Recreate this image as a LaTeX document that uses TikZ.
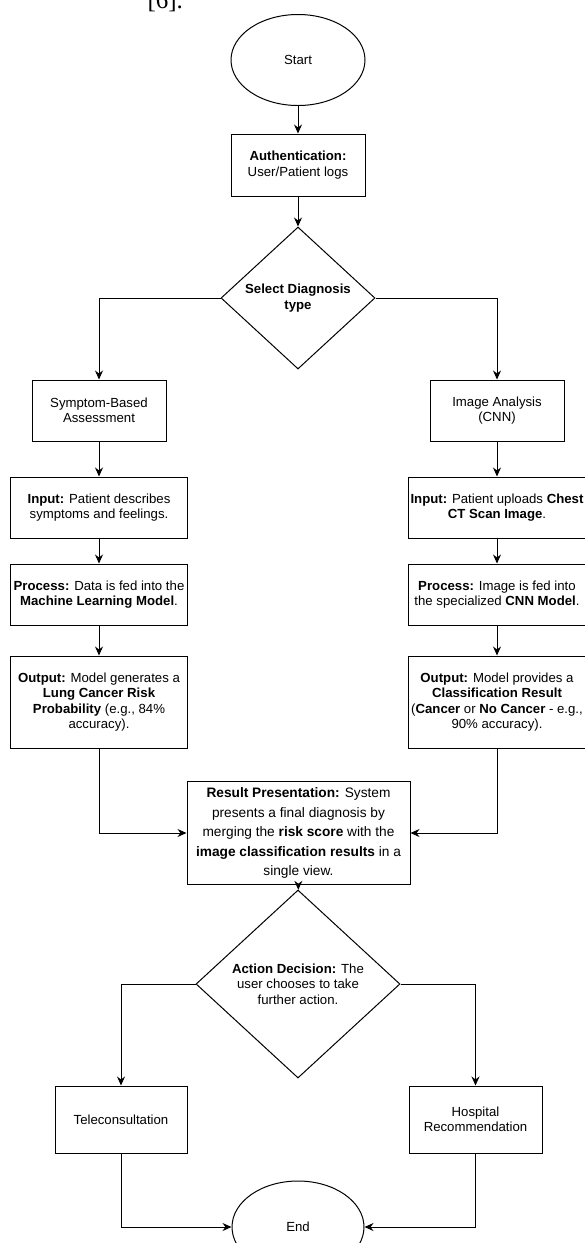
\documentclass[tikz,border=0pt]{standalone}
\usepackage{fontspec}
\setmainfont{Liberation Sans}
\newfontfamily\pageserif{Liberation Serif}
\usetikzlibrary{shapes.geometric,arrows.meta}
\begin{document}
\begin{tikzpicture}[x=1pt,y=-1pt,line width=1pt,>={Stealth[length=9pt,width=8pt]},
  every node/.style={font=\fontsize{13.2}{15.5}\selectfont,align=center,inner sep=1pt},
  terminal/.style={draw,ellipse,minimum width=134,minimum height=91},
  stepbox/.style={draw,rectangle,minimum width=134,minimum height=61},
  widebox/.style={draw,rectangle,minimum width=177,minimum height=61},
  decision/.style={draw,diamond,inner sep=0pt}]
\useasboundingbox (0,0) rectangle (584,1243);
\node[anchor=base west,font=\pageserif\fontsize{25}{25}\selectfont] (cite) at (146,8) {[6].};
\node[terminal] (start) at (298,60) {Start};
\node[stepbox,minimum height=62] (auth) at (298,165) {\textbf{Authentication:}\\User/Patient logs};
\node[decision,minimum width=154,minimum height=142] (select) at (298,298) {\textbf{Select Diagnosis}\\\textbf{type}};
\node[stepbox] (symptom) at (99,410.5) {Symptom-Based\\Assessment};
\node[stepbox] (image) at (497,410.5) {Image Analysis\\(CNN)};
\node[widebox] (inleft) at (99,507.5) {\textbf{Input:} Patient describes\\symptoms and feelings.};
\node[widebox] (inright) at (497,507.5) {\textbf{Input:} Patient uploads \textbf{Chest}\\\textbf{CT Scan Image}.};
\node[widebox] (procleft) at (99,594.5) {\textbf{Process:} Data is fed into the\\\textbf{Machine Learning Model}.};
\node[widebox] (procright) at (497,594.5) {\textbf{Process:} Image is fed into\\the specialized \textbf{CNN Model}.};
\node[widebox,minimum height=92] (outleft) at (99,702) {\textbf{Output:} Model generates a\\\textbf{Lung Cancer Risk}\\\textbf{Probability} (e.g., 84\%\\accuracy).};
\node[widebox,minimum height=92] (outright) at (497,702) {\textbf{Output:} Model provides a\\\textbf{Classification Result}\\(\textbf{Cancer} or \textbf{No Cancer} - e.g.,\\90\% accuracy).};
\node[draw,rectangle,minimum width=223,minimum height=103,font=\fontsize{13.7}{19.5}\selectfont] (result) at (298.5,833) {\textbf{Result Presentation:} System\\presents a final diagnosis by\\merging the \textbf{risk score} with the\\\textbf{image classification results} in a\\single view.};
\node[decision,minimum width=204,minimum height=188] (action) at (298,984) {\textbf{Action Decision:} The\\user chooses to take\\further action.};
\node[stepbox,minimum width=132,minimum height=67] (tele) at (121,1119.5) {Teleconsultation};
\node[stepbox,minimum width=133,minimum height=67] (hospital) at (475.5,1119.5) {Hospital\\Recommendation};
\node[terminal,minimum width=132,minimum height=92] (end) at (298,1227) {End};
\draw [->] (start) -- (auth);
\draw [->] (auth) -- (select);
\draw [->] (select.west) -| (symptom.north);
\draw [->] (select.east) -| (image.north);
\draw [->] (symptom) -- (inleft);
\draw [->] (inleft) -- (procleft);
\draw [->] (procleft) -- (outleft);
\draw [->] (image) -- (inright);
\draw [->] (inright) -- (procright);
\draw [->] (procright) -- (outright);
\draw [->] (outleft.south) |- (result.west);
\draw [->] (outright.south) |- (result.east);
\draw [->] (result) -- (action);
\draw [->] (action.west) -| (tele.north);
\draw [->] (action.east) -| (hospital.north);
\draw [->] (tele.south) |- (end.west);
\draw [->] (hospital.south) |- (end.east);
\end{tikzpicture}
\end{document}
